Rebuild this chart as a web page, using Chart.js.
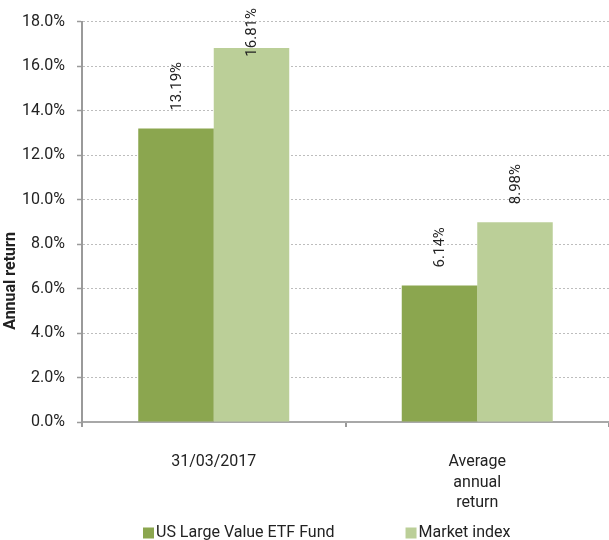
<!DOCTYPE html>
<html><head><meta charset="utf-8">
<script src="https://cdn.jsdelivr.net/npm/chart.js@4.4.0/dist/chart.umd.min.js"></script>
<style>html,body{margin:0;padding:0;background:#fff}#wrap{width:609px;height:540px}</style>
</head><body><div id="wrap"><canvas id="c" width="609" height="540"></canvas></div>
<script>
const categories = ["31/03/2017", ["Average", "annual", "return"]];
const seriesNames = ["US Large Value ETF Fund", "Market index"];
const fundValues = [13.19, 6.14];
const indexValues = [16.81, 8.98];
const yTicks = [0, 2, 4, 6, 8, 10, 12, 14, 16, 18];
const yAxisTitle = "Annual return";
const seriesColors = ["#8BA64F", "#BBCF98"];

const FONT = "Roboto, 'Liberation Sans', sans-serif";
const TEXT = "#222";

const labelPlugin = {
  id: "barLabels",
  afterDatasetsDraw(chart) {
    const ctx = chart.ctx;
    chart.data.datasets.forEach((ds, i) => {
      const meta = chart.getDatasetMeta(i);
      meta.data.forEach((bar, j) => {
        const txt = ds.data[j].toFixed(2) + "%";
        ctx.save();
        ctx.font = "15px " + FONT;
        ctx.fillStyle = TEXT;
        const w = ctx.measureText(txt).width;
        let start = bar.y - 18;
        if (start - w < 8) start = 8 + w;
        ctx.translate(bar.x + 1, start);
        ctx.rotate(-Math.PI / 2);
        ctx.textAlign = "left";
        ctx.textBaseline = "middle";
        ctx.fillText(txt, 0, 0);
        ctx.restore();
      });
    });
  }
};

const extrasPlugin = {
  id: "extras",
  afterDraw(chart) {
    const ctx = chart.ctx;
    // y axis title
    ctx.save();
    ctx.font = "bold 16px " + FONT;
    ctx.fillStyle = TEXT;
    ctx.translate(14.5, 281);
    ctx.rotate(-Math.PI / 2);
    ctx.textAlign = "center";
    ctx.textBaseline = "alphabetic";
    ctx.fillText(yAxisTitle, 0, 0);
    ctx.restore();
    // legend
    ctx.save();
    ctx.font = "16px " + FONT;
    ctx.textBaseline = "middle";
    ctx.textAlign = "left";
    let x = 143;
    const cy = 533;
    chart.data.datasets.forEach((ds) => {
      ctx.fillStyle = ds.backgroundColor;
      ctx.fillRect(x, cy - 5.5, 11, 11);
      ctx.fillStyle = TEXT;
      ctx.fillText(ds.label, x + 13, cy);
      x += 13 + ctx.measureText(ds.label).width + 71;
    });
    ctx.restore();
  }
};

new Chart(document.getElementById("c"), {
  type: "bar",
  data: {
    labels: categories,
    datasets: [
      { label: seriesNames[0], data: fundValues, backgroundColor: seriesColors[0], borderWidth: 0 },
      { label: seriesNames[1], data: indexValues, backgroundColor: seriesColors[1], borderWidth: 0 }
    ]
  },
  options: {
    responsive: false,
    animation: false,
    devicePixelRatio: 1,
    layout: { padding: { top: 17, bottom: 26, left: 0, right: 0 } },
    plugins: { legend: { display: false }, tooltip: { enabled: false } },
    datasets: { bar: { categoryPercentage: 0.573, barPercentage: 1.0 } },
    scales: {
      x: {
        grid: { offset: true, drawOnChartArea: false, tickLength: 5, tickColor: "#9a9a9a", lineWidth: 2 },
        border: { color: "#a8a8a8", width: 2 },
        ticks: { color: TEXT, font: { family: FONT, size: 16, lineHeight: 1.28 }, padding: 25, maxRotation: 0 },
        afterFit(scale) { scale.height = 92; }
      },
      y: {
        min: 0, max: 18,
        afterBuildTicks(scale) { scale.ticks = yTicks.map(v => ({ value: v })); },
        grid: { color: "#bdbdbd", lineWidth: 1, tickLength: 5, tickColor: "#9a9a9a", tickWidth: 1.5 },
        border: { color: "#9a9a9a", width: 2, dash: [2, 2] },
        ticks: { color: TEXT, font: { family: FONT, size: 16 }, padding: 12, callback: v => Number(v).toFixed(1) + "%" },
        afterFit(scale) { scale.width = 82; }
      }
    }
  },
  plugins: [labelPlugin, extrasPlugin]
});
</script>
</body></html>
